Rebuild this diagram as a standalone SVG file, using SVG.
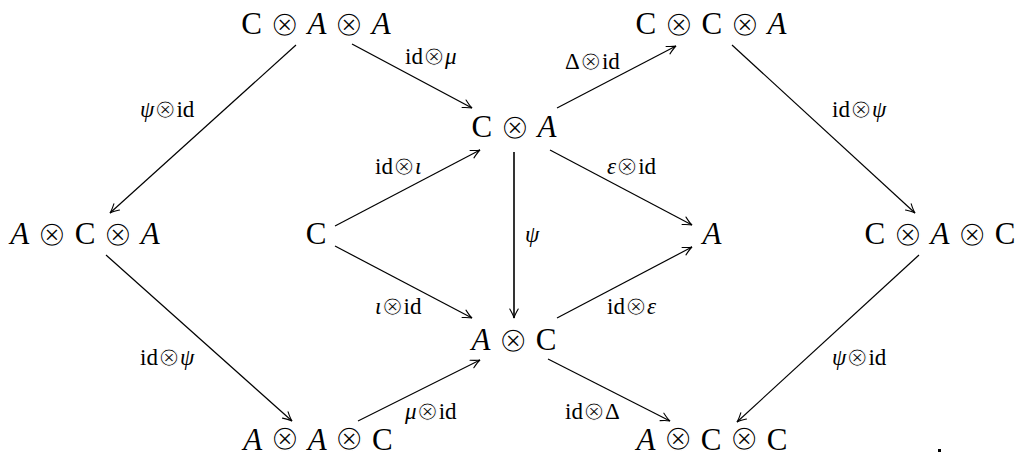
<svg xmlns="http://www.w3.org/2000/svg" width="1017" height="459" viewBox="0 0 1017 459">
<defs>
<style>
.n{font-family:"Liberation Serif","DejaVu Serif",serif;font-size:31px;fill:#000;text-anchor:middle}
.i{font-style:italic}
.o{font-family:"DejaVu Sans",sans-serif;font-style:normal;font-size:1.15em;stroke:#fff;stroke-width:1.4px;baseline-shift:-0.05em}
.b .o{baseline-shift:0}
.l{font-family:"Liberation Serif","DejaVu Serif",serif;font-size:23px;fill:#000}
.l .o{stroke-width:1px}
.c line{stroke:#000;stroke-width:1.2;fill:none;marker-end:url(#ah)}
</style>
<marker id="ah" markerUnits="userSpaceOnUse" markerWidth="14" markerHeight="12" viewBox="-10 -6 12 12" refX="0" refY="0" orient="auto">
<path d="M-9,-4.2 C-5.5,-2.2 -2.5,-0.6 0,0 C-2.5,0.6 -5.5,2.2 -9,4.2" fill="none" stroke="#000" stroke-width="1.1" stroke-linecap="round"/>
</marker>
</defs>
<rect width="1017" height="459" fill="#fff"/>
<g class="c" id="connectors">
<line x1="296" y1="45" x2="110" y2="213"/>
<line x1="352" y1="44" x2="472" y2="108"/>
<line x1="335" y1="226" x2="480" y2="150"/>
<line x1="335" y1="246" x2="472" y2="318"/>
<line x1="557" y1="108" x2="676" y2="46"/>
<line x1="550" y1="150" x2="692" y2="225"/>
<line x1="514" y1="152" x2="514" y2="318" style="stroke-width:1.6"/>
<line x1="557" y1="318" x2="692" y2="247"/>
<line x1="732" y1="45" x2="915" y2="213"/>
<line x1="106" y1="255" x2="292" y2="421"/>
<line x1="358" y1="421" x2="480" y2="360"/>
<line x1="548" y1="359" x2="670" y2="421"/>
<line x1="919" y1="255" x2="737" y2="422"/>
</g>
<g id="labels">
<text class="l" x="405" y="64">id<tspan class="o">⊗</tspan><tspan class="i">μ</tspan></text>
<text class="l" x="140" y="117"><tspan class="i">ψ</tspan><tspan class="o">⊗</tspan>id</text>
<text class="l" x="375" y="174">id<tspan class="o">⊗</tspan><tspan class="i">ι</tspan></text>
<text class="l" x="565" y="69">Δ<tspan class="o">⊗</tspan>id</text>
<text class="l" x="607" y="174"><tspan class="i">ε</tspan><tspan class="o">⊗</tspan>id</text>
<text class="l" x="832" y="117">id<tspan class="o">⊗</tspan><tspan class="i">ψ</tspan></text>
<text class="l i" x="525" y="242">ψ</text>
<text class="l" x="375" y="314"><tspan class="i">ι</tspan><tspan class="o">⊗</tspan>id</text>
<text class="l" x="607" y="314">id<tspan class="o">⊗</tspan><tspan class="i">ε</tspan></text>
<text class="l" x="140" y="365">id<tspan class="o">⊗</tspan><tspan class="i">ψ</tspan></text>
<text class="l" x="832" y="365"><tspan class="i">ψ</tspan><tspan class="o">⊗</tspan>id</text>
<text class="l" x="405" y="419"><tspan class="i">μ</tspan><tspan class="o">⊗</tspan>id</text>
<text class="l" x="565" y="419">id<tspan class="o">⊗</tspan>Δ</text>
</g>
<g id="n1"><text class="n" x="316" y="34">C <tspan class="o">⊗</tspan> <tspan class="i">A</tspan> <tspan class="o">⊗</tspan> <tspan class="i">A</tspan></text></g>
<g id="n2"><text class="n" x="711" y="34">C <tspan class="o">⊗</tspan> C <tspan class="o">⊗</tspan> <tspan class="i">A</tspan></text></g>
<g id="n3"><text class="n" x="514" y="137">C <tspan class="o">⊗</tspan> <tspan class="i">A</tspan></text></g>
<g id="n4"><text class="n" x="85" y="244"><tspan class="i">A</tspan> <tspan class="o">⊗</tspan> C <tspan class="o">⊗</tspan> <tspan class="i">A</tspan></text></g>
<g id="n5"><text class="n" x="316" y="244">C</text></g>
<g id="n6"><text class="n i" x="712" y="244">A</text></g>
<g id="n7"><text class="n" x="940" y="244">C <tspan class="o">⊗</tspan> <tspan class="i">A</tspan> <tspan class="o">⊗</tspan> C</text></g>
<g id="n8"><text class="n" x="514" y="350"><tspan class="i">A</tspan> <tspan class="o">⊗</tspan> C</text></g>
<g id="n9"><text class="n b" x="318" y="450"><tspan class="i">A</tspan> <tspan class="o">⊗</tspan> <tspan class="i">A</tspan> <tspan class="o">⊗</tspan> C</text></g>
<g id="n10"><text class="n b" x="712" y="450"><tspan class="i">A</tspan> <tspan class="o">⊗</tspan> C <tspan class="o">⊗</tspan> C</text></g>
<rect x="938" y="449" width="3" height="3" fill="#000"/>
</svg>
